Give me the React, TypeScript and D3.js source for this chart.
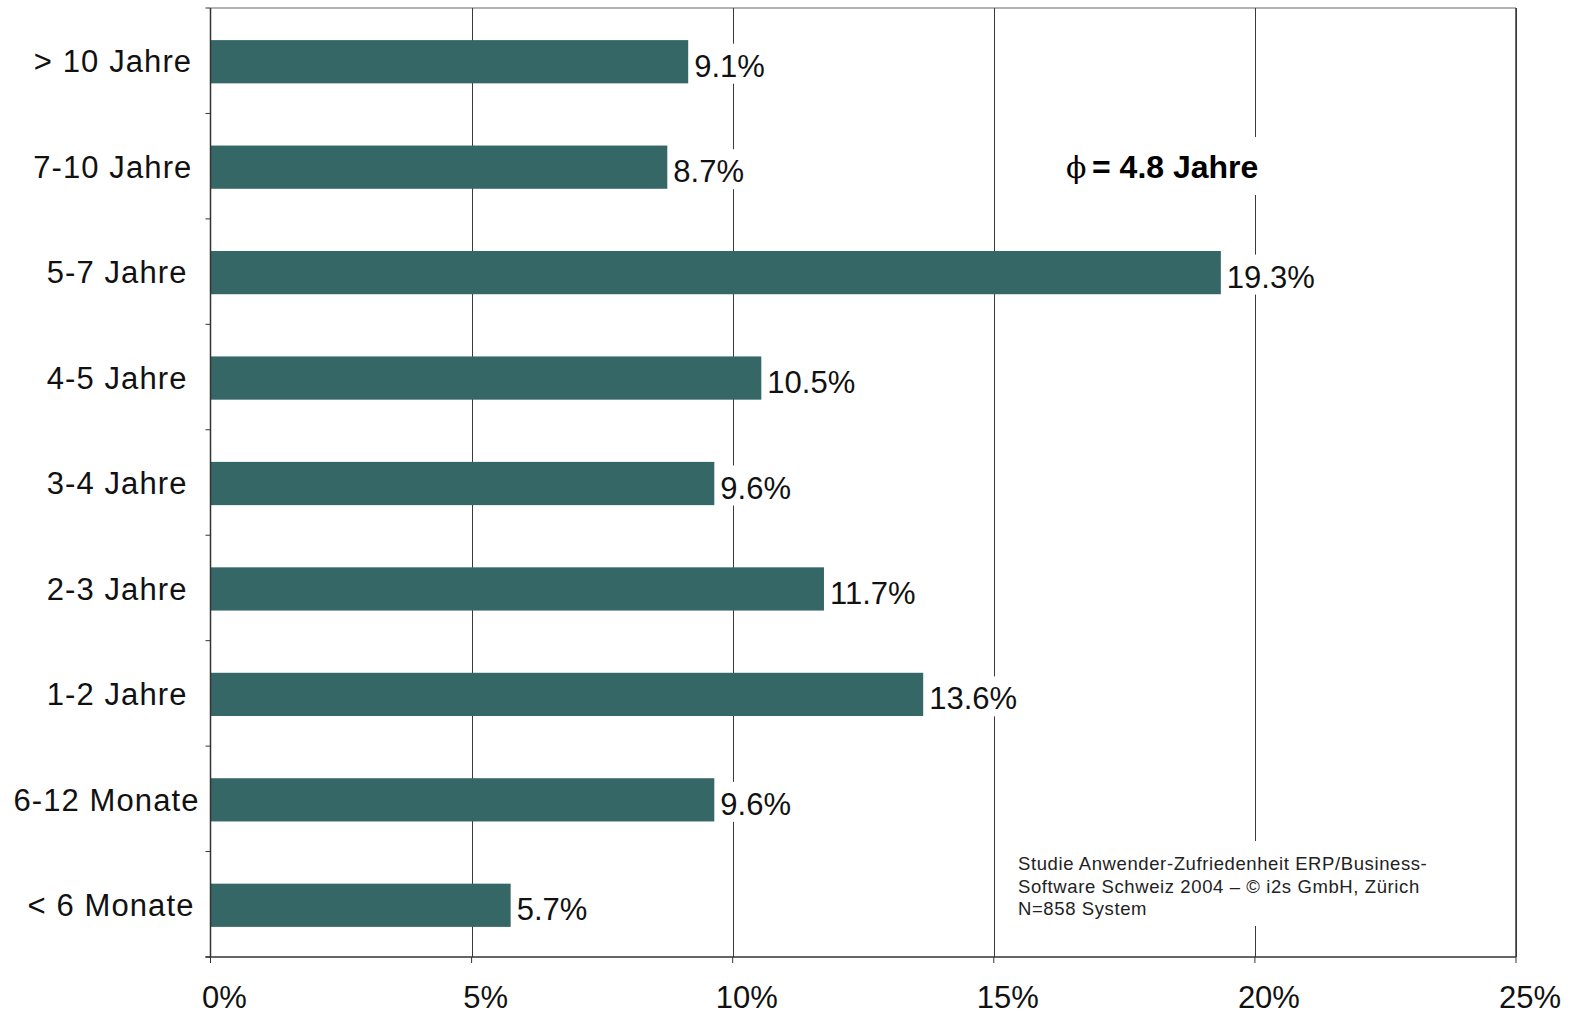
import React, { useLayoutEffect, useRef, useState } from "react";
import * as d3 from "d3";

const categories = [
  "> 10 Jahre",
  "7-10 Jahre",
  "5-7 Jahre",
  "4-5 Jahre",
  "3-4 Jahre",
  "2-3 Jahre",
  "1-2 Jahre",
  "6-12 Monate",
  "< 6 Monate",
];
const values = [9.1, 8.7, 19.3, 10.5, 9.6, 11.7, 13.6, 9.6, 5.7];
const xTicks = [0, 5, 10, 15, 20, 25];
const xTickLabels = ["0%", "5%", "10%", "15%", "20%", "25%"];
const annotationSymbol = "\u03D5";
const annotationText = "= 4.8 Jahre";
const footnoteLines = [
  "Studie Anwender-Zufriedenheit ERP/Business-",
  "Software Schweiz 2004 – © i2s GmbH, Zürich",
  "N=858 System",
];

const W = 1577;
const H = 1014;
const M = { left: 210.5, right: 61, top: 8, bottom: 57 };
const FONT = "'Liberation Sans', Arial, Helvetica, sans-serif";
const BAR = "#366767";

export default function App() {
  const x = d3.scaleLinear().domain([0, 25]).range([M.left, W - M.right]);
  const y = d3
    .scaleBand<string>()
    .domain(categories)
    .range([M.top + 1, H - M.bottom + 1])
    .paddingInner(0.59)
    .paddingOuter(0.295);
  const step = y.step();
  const y0 = M.top;
  const y1 = H - M.bottom;
  const fmt = (v: number) => d3.format(".1f")(v) + "%";
  const valueFont = 31;
  const barExtra = 2.5;

  const labelRefs = useRef<(SVGTextElement | null)[]>([]);
  const [labelWidths, setLabelWidths] = useState<number[] | null>(null);
  useLayoutEffect(() => {
    const ws = labelRefs.current.map((el) => (el ? el.getComputedTextLength() : 0));
    setLabelWidths(ws);
  }, []);

  return (
    <svg
      width={W}
      height={H}
      style={{ position: "absolute", left: 0, top: 0, background: "#fff" }}
      fontFamily={FONT}
    >
      <rect x={0} y={0} width={W} height={H} fill="#fff" />
      {/* top border */}
      <line x1={x(0)} x2={x(25)} y1={y0} y2={y0} stroke="#9a9a9a" strokeWidth={1.5} />
      {/* vertical gridlines */}
      {xTicks.slice(1).map((t) => (
        <line
          key={"g" + t}
          x1={Math.round(x(t)) + 0.5}
          x2={Math.round(x(t)) + 0.5}
          y1={y0}
          y2={y1}
          stroke="#3a3a3a"
          strokeWidth={1}
        />
      ))}
      {/* annotation background */}
      <rect x={1058} y={137} width={206} height={58} fill="#fff" />
      {/* footnote background */}
      <rect x={1010} y={841} width={425} height={85} fill="#fff" />
      {/* bars */}
      {categories.map((c, i) => (
        <rect
          key={"b" + c}
          x={x(0)}
          y={y(c)!}
          width={x(values[i]) - x(0) + barExtra}
          height={y.bandwidth()}
          fill={BAR}
        />
      ))}
      {/* value labels */}
      {categories.map((c, i) => {
        const label = fmt(values[i]);
        const lx = x(values[i]) + barExtra + 6;
        const cy = y(c)! + y.bandwidth() / 2;
        const w = label.length * valueFont * 0.56 + 4;
        return (
          <g key={"v" + c}>
            <rect x={lx} y={cy - 18} width={w} height={40} fill="#fff" />
            <text x={lx} y={cy + 15} fontSize={valueFont} fill="#111">
              {label}
            </text>
          </g>
        );
      })}
      {/* left axis */}
      <line x1={x(0)} x2={x(0)} y1={y0} y2={y1} stroke="#333" strokeWidth={1.5} />
      {d3.range(categories.length + 1).map((k) => (
        <line
          key={"yt" + k}
          x1={x(0) - 5}
          x2={x(0)}
          y1={y0 + k * step}
          y2={y0 + k * step}
          stroke="#333"
          strokeWidth={1}
        />
      ))}
      {categories.map((c, i) => {
        const w = labelWidths ? labelWidths[i] : 0;
        return (
          <text
            key={"yl" + c}
            ref={(el) => {
              labelRefs.current[i] = el;
            }}
            x={150.4 - 0.736 * w}
            y={y(c)! + y.bandwidth() / 2 + 10.7}
            fontSize={31}
            letterSpacing={1.1}
            fill="#111"
          >
            {c}
          </text>
        );
      })}
      {/* bottom axis */}
      <line x1={x(0) - 5} x2={x(25)} y1={y1} y2={y1} stroke="#333" strokeWidth={1.5} />
      {xTicks.map((t, i) => (
        <g key={"xt" + t}>
          <line x1={x(t)} x2={x(t)} y1={y1} y2={y1 + 6} stroke="#333" strokeWidth={1} />
          <text x={x(t) + 14} y={1008} fontSize={31} textAnchor="middle" fill="#111">
            {xTickLabels[i]}
          </text>
        </g>
      ))}
      {/* right border */}
      <line x1={x(25)} x2={x(25)} y1={y0} y2={y1} stroke="#3a3a3a" strokeWidth={1.5} />
      {/* annotation */}
      <text x={1066} y={178} fontSize={30} fontFamily="'DejaVu Serif', serif" fill="#000">
        {annotationSymbol}
      </text>
      <text x={1092} y={178} fontSize={32} fontWeight="bold" fill="#000">
        {annotationText}
      </text>
      {/* footnote */}
      {footnoteLines.map((l, i) => (
        <text
          key={"f" + i}
          x={1018}
          y={870 + i * 22.6}
          fontSize={18.5}
          letterSpacing={0.6}
          fill="#222"
        >
          {l}
        </text>
      ))}
    </svg>
  );
}
